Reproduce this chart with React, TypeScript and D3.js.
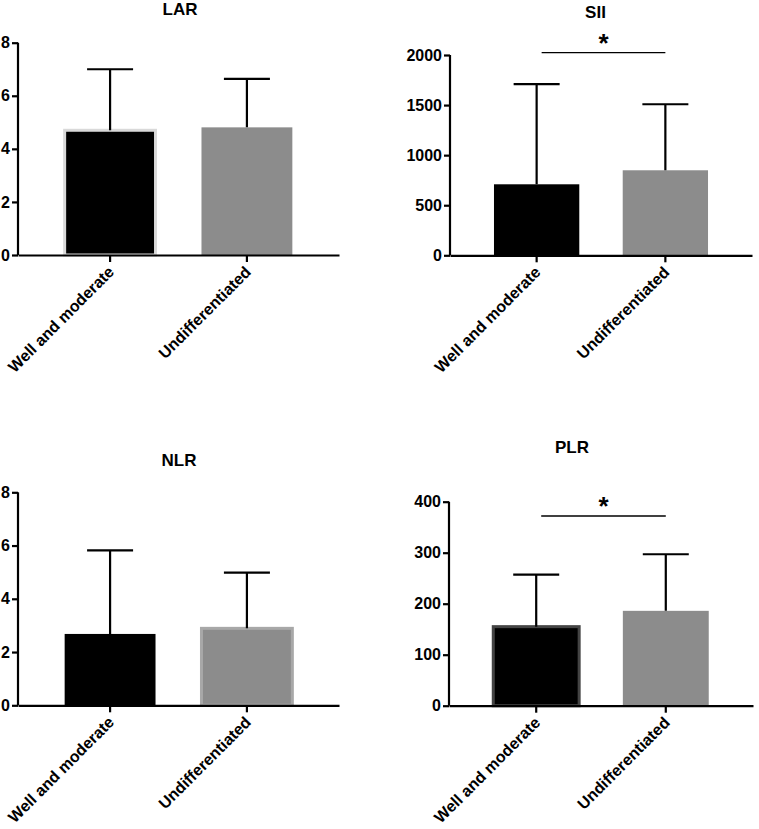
import * as d3 from "d3";
import { useEffect, useRef } from "react";

const categories = ["Well and moderate", "Undifferentiated"];
const titles = ["LAR", "SII", "NLR", "PLR"];

const larMeans = [4.7, 4.81];
const larSD = [2.3, 1.83];
const siiMeans = [709, 849];
const siiSD = [1001, 659];
const nlrMeans = [2.68, 2.89];
const nlrSD = [3.14, 2.09];
const plrMeans = [155, 186];
const plrSD = [102, 111];

const yMax = [8, 2000, 8, 400];
const yStep = [2, 500, 2, 100];
const significant = [false, true, false, true];

// where each panel sits on the page
const layout = [
  { left: 18, right: 339, top: 42.7, bottom: 255, tx: 180, ty: 15, sigY: 0 },
  { left: 450, right: 752, top: 55, bottom: 255.3, tx: 595.5, ty: 18, sigY: 52.7 },
  { left: 18, right: 339, top: 492.3, bottom: 705.3, tx: 179, ty: 466, sigY: 0 },
  { left: 449, right: 753, top: 501.7, bottom: 705.7, tx: 572, ty: 453, sigY: 516 },
];
const barStrokes = [
  ["#d9d9d9", "none"],
  ["none", "none"],
  ["none", "#a8a8a8"],
  ["#444444", "none"],
];
const barFill = ["#000000", "#8c8c8c"];

const App = () => {
  const svgRef = useRef<SVGSVGElement>(null);
  useEffect(() => {
    if (!svgRef.current) return;
    const svg = d3.select(svgRef.current);
    svg.selectAll("*").remove();
    const means = [larMeans, siiMeans, nlrMeans, plrMeans];
    const sds = [larSD, siiSD, nlrSD, plrSD];
    const font = "'Liberation Sans', Arial, sans-serif";

    titles.forEach((title, i) => {
      const L = layout[i];
      const x = d3
        .scaleBand()
        .domain(categories)
        .range([L.left, L.right])
        .paddingInner(0.314)
        .paddingOuter(0.33);
      const y = d3.scaleLinear().domain([0, yMax[i]]).range([L.bottom, L.top]);
      const g = svg.append("g");

      // bars
      g.selectAll()
        .data(categories)
        .join("rect")
        .attr("x", (d) => x(d)! + 1.5)
        .attr("y", (d, j) => y(means[i][j]))
        .attr("width", x.bandwidth() - 3)
        .attr("height", (d, j) => L.bottom - y(means[i][j]))
        .attr("fill", (d, j) => barFill[j])
        .attr("stroke", (d, j) => barStrokes[i][j])
        .attr("stroke-width", 3);

      // error bars (upper only)
      const cx = (d: string) => x(d)! + x.bandwidth() / 2;
      g.selectAll()
        .data(categories)
        .join("path")
        .attr("d", (d, j) => {
          const top = y(means[i][j] + sds[i][j]);
          return `M${cx(d)},${y(means[i][j])}V${top}M${cx(d) - 23},${top}H${cx(d) + 23}`;
        })
        .attr("fill", "none")
        .attr("stroke", "#000")
        .attr("stroke-width", 2.2);

      // y axis
      const ya = g
        .append("g")
        .attr("transform", `translate(${L.left},0)`)
        .call(
          d3
            .axisLeft(y)
            .tickValues(d3.range(0, yMax[i] + 1, yStep[i]))
            .tickFormat(d3.format("d"))
            .tickSize(6)
            .tickPadding(2)
            .tickSizeOuter(0)
        );
      ya.select(".domain").attr("stroke-width", 2.2).attr("d", `M0,${L.top}V${L.bottom}`);
      ya.selectAll(".tick line").attr("stroke-width", 2.2);
      ya.selectAll(".tick text")
        .attr("font-family", font)
        .attr("font-weight", "bold")
        .attr("font-size", 16)
        .attr("fill", "#000");

      // x axis
      const xa = g
        .append("g")
        .attr("transform", `translate(0,${L.bottom})`)
        .call(d3.axisBottom(x).tickSize(7).tickSizeOuter(0));
      xa.select(".domain").attr("stroke-width", 2.2);
      xa.selectAll(".tick line").attr("stroke-width", 2.2);
      xa.selectAll(".tick text")
        .attr("font-family", font)
        .attr("font-weight", "bold")
        .attr("font-size", 16)
        .attr("fill", "#000")
        .attr("text-anchor", "end")
        .attr("dy", 0)
        .attr("y", 0)
        .attr("transform", "translate(5,18) rotate(-45)");

      // title
      g.append("text")
        .attr("x", L.tx)
        .attr("y", L.ty)
        .attr("text-anchor", "middle")
        .attr("font-family", font)
        .attr("font-weight", "bold")
        .attr("font-size", 17)
        .text(title);

      // significance marker
      if (significant[i]) {
        const x1 = cx(categories[0]) + 5;
        const x2 = cx(categories[1]);
        g.append("line")
          .attr("x1", x1)
          .attr("x2", x2)
          .attr("y1", L.sigY)
          .attr("y2", L.sigY)
          .attr("stroke", "#000")
          .attr("stroke-width", 1.3);
        g.append("text")
          .attr("x", (x1 + x2) / 2)
          .attr("y", L.sigY - 1)
          .attr("text-anchor", "middle")
          .attr("font-family", font)
          .attr("font-weight", "bold")
          .attr("font-size", 26)
          .text("*");
      }
    });
  }, []);
  return (
    <div style={{ position: "absolute", left: 0, top: 0 }}>
      <svg ref={svgRef} width={759} height={829} style={{ display: "block", background: "#fff" }}></svg>
    </div>
  );
};

export default App;
